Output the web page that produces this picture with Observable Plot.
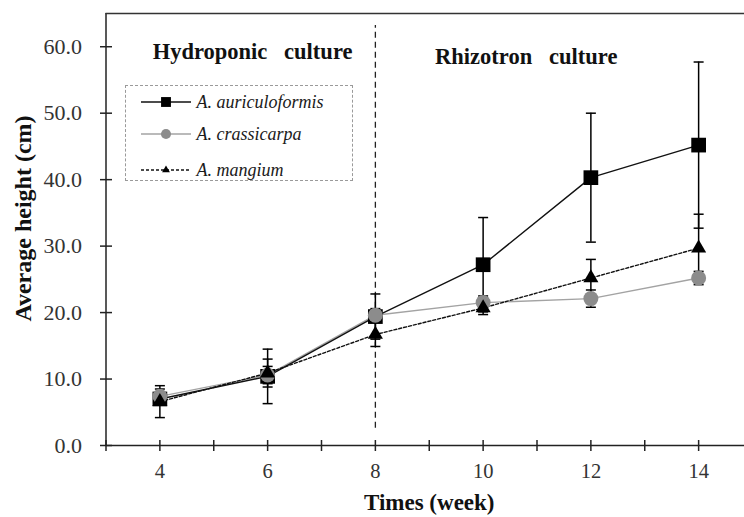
<!DOCTYPE html>
<html>
<head>
<meta charset="utf-8">
<script src="https://cdn.jsdelivr.net/npm/d3@7"></script>
<script src="https://cdn.jsdelivr.net/npm/@observablehq/plot@0.6"></script>
<style>
  html, body { margin: 0; padding: 0; background: #fff; overflow: hidden; }
  #wrap { position: relative; width: 744px; height: 517px; }
  #chart svg, #chart svg text { font-family: "Liberation Serif", "Times New Roman", serif !important; }
  #legend { position: absolute; left: 125px; top: 85px; width: 228px; height: 96px;
    border: 1px dashed #9a9a9a; box-sizing: border-box; font-family: "Liberation Serif", "Times New Roman", serif;
    font-style: italic; font-size: 18px; color: #1a1a1a; }
  .row { position: absolute; left: 0; height: 20px; display: flex; align-items: center; }
  .row svg { margin-left: 14.5px; margin-right: 6px; }
</style>
</head>
<body>
<div id="wrap"><div id="chart"></div><div id="legend"></div></div>
<script>
const weeks = [4, 6, 8, 10, 12, 14];
const seriesNames = ["A. auriculoformis", "A. crassicarpa", "A. mangium"];
const auriMean = [7.0, 10.4, 19.4, 27.2, 40.3, 45.2];
const auriSD   = [0.8, 4.1, 3.4, 7.1, 9.7, 12.5];
const crassMean = [7.4, 10.6, 19.6, 21.5, 22.1, 25.2];
const crassSD   = [1.1, 1.3, 1.0, 1.0, 1.3, 1.0];
const mangMean = [6.6, 10.9, 16.7, 20.7, 25.2, 29.7];
const mangSD   = [2.4, 2.1, 1.8, 1.0, 2.8, 5.1];
const yTicks = [0, 10, 20, 30, 40, 50, 60];
const xLabelTicks = [4, 6, 8, 10, 12, 14];
const xMinorTicks = [3, 4, 5, 6, 7, 8, 9, 10, 11, 12, 13, 14, 15];
const phaseBoundary = 8;
const annotations = [
  {label: "Hydroponic   culture", x: 5.72, y: 59.3},
  {label: "Rhizotron   culture", x: 10.8, y: 58.5}
];

const styles = {
  "A. auriculoformis": {line: "#111", dash: null, symbol: "square", r: 8.3, fill: "#000"},
  "A. crassicarpa": {line: "#a3a3a3", dash: null, symbol: "circle", r: 7.5, fill: "#8c8c8c"},
  "A. mangium": {line: "#111", dash: "3,2", symbol: "triangle", r: 5.6, fill: "#000"}
};

function build(name, means, sds) {
  return weeks.map((w, i) => ({series: name, week: w, mean: means[i], sd: sds[i]}));
}
const dAuri = build(seriesNames[0], auriMean, auriSD);
const dCrass = build(seriesNames[1], crassMean, crassSD);
const dMang = build(seriesNames[2], mangMean, mangSD);

const capSym = {draw(c) { c.moveTo(-5, 0); c.lineTo(5, 0); }};
const hTick = {draw(c) { c.moveTo(-6, 0); c.lineTo(6, 0); }};
const vTick = {draw(c) { c.moveTo(0, -5.5); c.lineTo(0, 5.5); }};

function lineMark(data) {
  const s = styles[data[0].series];
  return Plot.line(data, {x: "week", y: "mean", stroke: s.line, strokeWidth: 1.4,
    strokeDasharray: s.dash || undefined});
}
function errMarks(data) {
  return [
    Plot.ruleX(data, {x: "week", y1: d => d.mean - d.sd, y2: d => d.mean + d.sd, stroke: "#000", strokeWidth: 1.5}),
    Plot.dot(data, {x: "week", y: d => d.mean + d.sd, symbol: capSym, stroke: "#000", strokeWidth: 1.5, fill: "none"}),
    Plot.dot(data, {x: "week", y: d => d.mean - d.sd, symbol: capSym, stroke: "#000", strokeWidth: 1.5, fill: "none"})
  ];
}
function dotMark(data) {
  const s = styles[data[0].series];
  return Plot.dot(data, {x: "week", y: "mean", symbol: s.symbol, r: s.r, fill: s.fill, stroke: "none"});
}

const font = "Liberation Serif";
const chart = Plot.plot({
  width: 744, height: 517,
  marginLeft: 105.5, marginRight: 0, marginTop: 13, marginBottom: 72,
  style: {fontFamily: font, fontSize: "21px", color: "#222", background: "#fff"},
  x: {domain: [3, 15], range: [105.5, 752]},
  y: {domain: [0, 65], range: [445, 13]},
  marks: [
    Plot.ruleX([phaseBoundary], {y1: 2.6, y2: 63.2, stroke: "#222", strokeWidth: 1.3, strokeDasharray: "6,4"}),
    lineMark(dCrass), lineMark(dMang), lineMark(dAuri),
    ...errMarks(dAuri), ...errMarks(dCrass), ...errMarks(dMang),
    dotMark(dAuri), dotMark(dCrass), dotMark(dMang),
    Plot.ruleX([3], {stroke: "#222", strokeWidth: 1.5}),
    Plot.ruleY([0], {stroke: "#222", strokeWidth: 1.5}),
    Plot.ruleY([65], {stroke: "#333", strokeWidth: 1.5}),
    Plot.dot(yTicks, {x: 3, y: d => d, symbol: hTick, stroke: "#222", strokeWidth: 1.5, fill: "none"}),
    Plot.dot(xMinorTicks, {x: d => d, y: 0, symbol: vTick, stroke: "#222", strokeWidth: 1.5, fill: "none"}),
    Plot.axisY({ticks: yTicks, tickFormat: d => d.toFixed(1), tickSize: 0, tickPadding: 24, label: null, fontSize: 22, fill: "#333"}),
    Plot.axisX({ticks: xLabelTicks, tickFormat: d => String(d), tickSize: 0, tickPadding: 18, label: null, fontSize: 20.5, fill: "#333"}),
    Plot.text(["Times (week)"], {frameAnchor: "bottom", textAnchor: "middle", dx: 4, dy: 64, fontWeight: "bold", fontSize: 23, fill: "#111"}),
    Plot.text(["Average height (cm)"], {frameAnchor: "left", textAnchor: "middle", rotate: -90, dx: -83, dy: -11, fontWeight: "bold", fontSize: 24, fill: "#111"}),
    Plot.text(annotations, {x: "x", y: "y", text: "label", fontWeight: "bold", fontSize: 22.5, fill: "#111"})
  ]
});
document.getElementById("chart").appendChild(chart);

// Legend
const legend = document.getElementById("legend");
const rowsY = [16, 48, 84];
seriesNames.forEach((name, i) => {
  const s = styles[name];
  const row = document.createElement("div");
  row.className = "row";
  row.style.top = (rowsY[i] - 10) + "px";
  const svg = d3.create("svg").attr("width", 50).attr("height", 20);
  svg.append("line").attr("x1", 0).attr("x2", 50).attr("y1", 10).attr("y2", 10)
    .attr("stroke", s.line).attr("stroke-width", 1.4).attr("stroke-dasharray", s.dash);
  const sym = {square: d3.symbolSquare, circle: d3.symbolCircle, triangle: d3.symbolTriangle2}[s.symbol];
  svg.append("path").attr("transform", "translate(25,10)")
    .attr("d", d3.symbol(sym, 0.45 * Math.PI * s.r * s.r)()).attr("fill", s.fill);
  row.appendChild(svg.node());
  const t = document.createElement("span");
  t.textContent = name;
  row.appendChild(t);
  legend.appendChild(row);
});
</script>
</body>
</html>
